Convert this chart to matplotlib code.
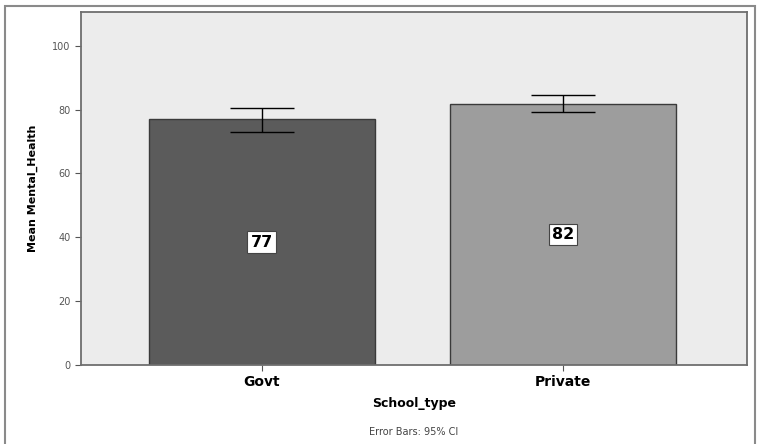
import matplotlib.pyplot as plt
from matplotlib.patches import Rectangle

# Mean mental health score by school type, with 95% CI
school_types = ["Govt", "Private"]
means = [77.0, 81.8]
ci_low = [72.9, 79.3]
ci_high = [80.6, 84.5]
bar_labels = ["77", "82"]

fig = plt.figure(figsize=(7.57, 4.44), dpi=100)
fig.patch.set_facecolor("white")

# outer chart frame
fig.patches.append(Rectangle((5 / 757, -0.02), 750 / 757, 1 - 6 / 444 + 0.02,
                             transform=fig.transFigure, fill=False,
                             edgecolor="#8a8a8a", linewidth=1.5))

ax = fig.add_axes([81 / 757, 1 - 365 / 444, (747 - 81) / 757, (365 - 12) / 444])
ax.set_facecolor("#ececec")

x = range(len(school_types))
colors = ["#5b5b5b", "#9d9d9d"]
ax.bar(x, means, width=0.75, color=colors, edgecolor="#3a3a3a", linewidth=1.0, zorder=2)

yerr = [[m - lo for m, lo in zip(means, ci_low)], [hi - m for m, hi in zip(means, ci_high)]]
ax.errorbar(x, means, yerr=yerr, fmt="none", ecolor="black", elinewidth=1.0,
            capsize=23, capthick=1.0, zorder=3)

for xi, m, lab in zip(x, means, bar_labels):
    ax.text(xi, m / 2, lab, ha="center", va="center", fontsize=11.5, fontweight="bold",
            color="black", zorder=4,
            bbox=dict(boxstyle="square,pad=0.2", facecolor="white", edgecolor="#444444", linewidth=0.8))

ax.set_xlim(-0.6, 1.61)
ax.set_ylim(0, 110.6)
ax.set_yticks([0, 20, 40, 60, 80, 100])
ax.set_xticks(list(x))
ax.set_xticklabels(school_types, fontsize=10, fontweight="bold")
ax.tick_params(axis="y", labelsize=7, length=4, color="#555555", labelcolor="#555555")
ax.tick_params(axis="x", length=4, color="#555555", pad=3)

for side in ["left", "right", "top", "bottom"]:
    ax.spines[side].set_color("#6e6e6e")
    ax.spines[side].set_linewidth(1.3)

ax.set_ylabel("Mean Mental_Health", fontsize=8, fontweight="bold", labelpad=10)
ax.set_xlabel("School_type", fontsize=9, fontweight="bold", labelpad=6)

fig.text(414 / 757, 1 - 432 / 444, "Error Bars: 95% CI", ha="center", va="center",
         fontsize=7, color="#444444")

fig.savefig("out.png", dpi=100)
